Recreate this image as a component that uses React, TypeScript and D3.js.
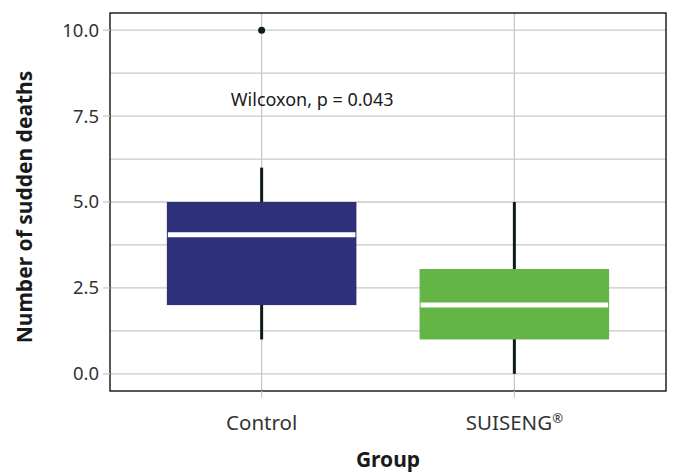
import * as d3 from 'd3';

const groups = ['Control', 'SUISENG®'];
const q1 = [2, 1];
const medians = [4.05, 2];
const q3 = [5, 3.05];
const whiskerLow = [1, 0];
const whiskerHigh = [6, 5];
const outliers = [[10], []];
const boxColors = ['#2e3179', '#65b446'];
const yTicks = [0, 2.5, 5, 7.5, 10];
const yMinor = [1.25, 3.75, 6.25, 8.75];
const annotation = 'Wilcoxon, p = 0.043';

const W = 673;
const H = 473;
const margin = { top: 13, right: 7, bottom: 82, left: 110 };
const font = "'Noto Sans', sans-serif";

export default function App() {
  const innerW = W - margin.left - margin.right;
  const innerH = H - margin.top - margin.bottom;

  const y = d3.scaleLinear().domain([-0.5, 10.5]).range([innerH, 0]);
  // discrete scale with ggplot-style 0.6 expansion
  const xc = d3.scaleLinear().domain([0.4, groups.length + 0.6]).range([0, innerW]);
  const x = (i: number) => xc(i + 1);
  const boxW = xc(0.75) - xc(0);

  return (
    <svg width={W} height={H} style={{ position: 'absolute', left: 0, top: 0, background: '#fff' }}>
      <g transform={`translate(${margin.left},${margin.top})`}>
        {yMinor.map((t) => (
          <line key={'m' + t} x1={0} x2={innerW} y1={y(t)} y2={y(t)} stroke="#c9c9c9" strokeWidth={1.3} />
        ))}
        {yTicks.map((t) => (
          <line key={'g' + t} x1={0} x2={innerW} y1={y(t)} y2={y(t)} stroke="#c9c9c9" strokeWidth={1.3} />
        ))}
        {groups.map((g, i) => (
          <line key={'v' + g} x1={x(i)} x2={x(i)} y1={0} y2={innerH} stroke="#c9c9c9" strokeWidth={1.3} />
        ))}

        {groups.map((g, i) => (
          <g key={g}>
            <line x1={x(i)} x2={x(i)} y1={y(whiskerHigh[i])} y2={y(whiskerLow[i])} stroke="#0b1d16" strokeWidth={3} />
            <rect
              x={x(i) - boxW / 2}
              y={y(q3[i])}
              width={boxW}
              height={y(q1[i]) - y(q3[i])}
              fill={boxColors[i]}
            />
            <line
              x1={x(i) - boxW / 2 + 1}
              x2={x(i) + boxW / 2 - 1}
              y1={y(medians[i])}
              y2={y(medians[i])}
              stroke="#fff"
              strokeWidth={5}
            />
            {outliers[i].map((o) => (
              <circle key={o} cx={x(i)} cy={y(o)} r={3.5} fill="#0b1d16" />
            ))}
          </g>
        ))}

        <text x={xc(1.2)} y={y(7.78)} textAnchor="middle" fontFamily={font} fontSize={18} fill="#1a1a1a">
          {annotation}
        </text>

        <rect x={0} y={0} width={innerW} height={innerH} fill="none" stroke="#111" strokeWidth={1.4} />

        {yTicks.map((t) => (
          <g key={'t' + t} transform={`translate(0,${y(t)})`}>
            <line x1={-7} x2={0} stroke="#c9c9c9" strokeWidth={1.3} />
            <text x={-11} dy="0.35em" textAnchor="end" fontFamily={font} fontSize={18.5} fill="#333">
              {d3.format('.1f')(t)}
            </text>
          </g>
        ))}
        {groups.map((g, i) => {
          const sup = g.endsWith('®');
          const base = sup ? g.slice(0, -1) : g;
          return (
            <g key={'xt' + g} transform={`translate(${x(i)},${innerH})`}>
              <line y1={0} y2={7} stroke="#c9c9c9" strokeWidth={1.3} />
              <text y={39} textAnchor="middle" fontFamily={font} fontSize={20.5} fill="#333">
                {base}
                {sup && (
                  <tspan fontSize={13} dy={-7}>
                    ®
                  </tspan>
                )}
              </text>
            </g>
          );
        })}

        <text
          x={innerW / 2}
          y={innerH + 76}
          textAnchor="middle"
          fontFamily={font}
          fontSize={21}
          fontWeight="bold"
          fill="#1a1a1a"
        >
          Group
        </text>
        <text
          transform={`translate(${-85},${innerH / 2 + 5}) rotate(-90)`}
          textAnchor="middle"
          dy="0.35em"
          fontFamily={font}
          fontSize={21}
          fontWeight="bold"
          fill="#1a1a1a"
        >
          Number of sudden deaths
        </text>
      </g>
    </svg>
  );
}
